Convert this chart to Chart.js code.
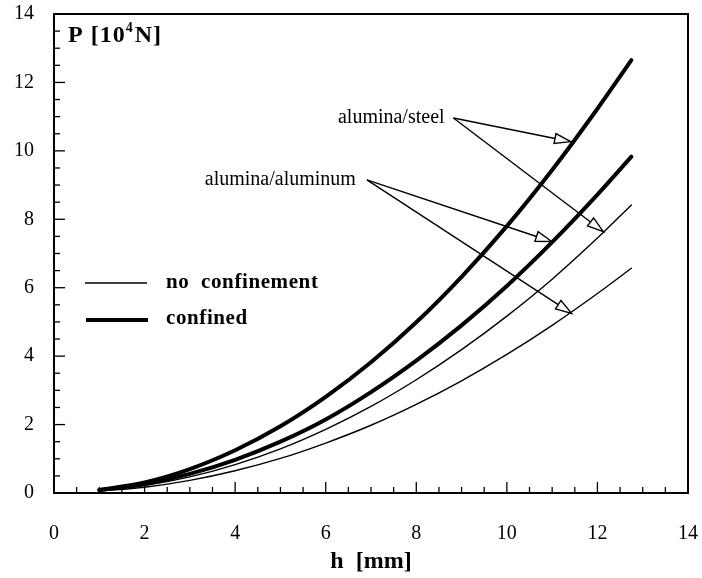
<!DOCTYPE html>
<html>
<head>
<meta charset="utf-8">
<script src="https://cdn.jsdelivr.net/npm/chart.js@4.4.1/dist/chart.umd.min.js"></script>
<style>
  html, body { margin: 0; padding: 0; background: #fff; }
  #wrap { width: 702px; height: 578px; }
</style>
</head>
<body>
<div id="wrap"><canvas id="chart" width="702" height="578"></canvas></div>
<script>
// h [mm] sample points
const H_VALUES = [1, 2, 3, 4, 5, 6, 7, 8, 9, 10, 11, 12, 12.75];

// P [10^4 N]
const STEEL_CONFINED    = [0.09, 0.31, 0.70, 1.25, 1.95, 2.81, 3.82, 4.99, 6.32, 7.80, 9.44, 11.23, 12.65];
const ALUMINUM_CONFINED = [0.08, 0.26, 0.56, 0.97, 1.50, 2.15, 2.95, 3.87, 4.90, 6.05, 7.33, 8.72, 9.83];
const STEEL_FREE        = [0.07, 0.22, 0.47, 0.83, 1.29, 1.86, 2.53, 3.31, 4.19, 5.17, 6.25, 7.45, 8.42];
const ALUMINUM_FREE     = [0.06, 0.17, 0.37, 0.65, 1.01, 1.46, 1.98, 2.59, 3.28, 4.05, 4.90, 5.83, 6.57];

// labels with arrows (data coordinates)
const NOTES = [
  { text: 'alumina/steel', at: [6.27, 10.96], from: [8.82, 10.96], tips: [[11.41, 10.27], [12.13, 7.64]] },
  { text: 'alumina/aluminum', at: [3.33, 9.15], from: [6.91, 9.15], tips: [[10.99, 7.35], [11.43, 5.25]] }
];

const SERIF = '"Liberation Serif", "Times New Roman", serif';

function pts(ys) {
  return H_VALUES.map((h, i) => ({ x: h, y: ys[i] }));
}

function line(ys, w) {
  return {
    data: pts(ys),
    borderColor: '#000',
    borderWidth: w,
    pointRadius: 0,
    fill: false,
    cubicInterpolationMode: 'monotone',
    borderCapStyle: 'round'
  };
}

function arrow(ctx, x0, y0, x1, y1) {
  const len = 16, half = 5;
  const a = Math.atan2(y1 - y0, x1 - x0);
  const bx = x1 - len * Math.cos(a), by = y1 - len * Math.sin(a);
  ctx.beginPath();
  ctx.moveTo(x0, y0);
  ctx.lineTo(bx, by);
  ctx.stroke();
  ctx.beginPath();
  ctx.moveTo(x1, y1);
  ctx.lineTo(bx + half * Math.sin(a), by - half * Math.cos(a));
  ctx.lineTo(bx - half * Math.sin(a), by + half * Math.cos(a));
  ctx.closePath();
  ctx.fillStyle = '#fff';
  ctx.fill();
  ctx.stroke();
}

// frame, inward ticks, legend, labels
const decor = {
  id: 'decor',
  afterDatasetsDraw(chart) {
    const ctx = chart.ctx;
    const a = chart.chartArea;
    const xs = chart.scales.x, ys = chart.scales.y;
    ctx.save();
    ctx.strokeStyle = '#000';
    ctx.lineWidth = 2;
    ctx.strokeRect(a.left, a.top, a.right - a.left, a.bottom - a.top);

    ctx.lineWidth = 1.3;
    for (let v = 0; v <= 14; v += 0.5) {
      const len = v % 2 === 0 ? 11 : 6;
      const py = ys.getPixelForValue(v);
      ctx.beginPath(); ctx.moveTo(a.left, py); ctx.lineTo(a.left + len, py); ctx.stroke();
      const px = xs.getPixelForValue(v);
      ctx.beginPath(); ctx.moveTo(px, a.bottom); ctx.lineTo(px, a.bottom - len); ctx.stroke();
    }

    // axis title P [10^4 N]
    ctx.fillStyle = '#000';
    ctx.textBaseline = 'alphabetic';
    ctx.textAlign = 'left';
    ctx.letterSpacing = '1px';
    ctx.font = 'bold 24px ' + SERIF;
    let tx = 68;
    ctx.fillText('P [10', tx, 42);
    tx += ctx.measureText('P [10').width;
    ctx.font = 'bold 14px ' + SERIF;
    ctx.fillText('4', tx, 32);
    tx += ctx.measureText('4').width + 1;
    ctx.font = 'bold 24px ' + SERIF;
    ctx.fillText('N]', tx, 42);

    // legend
    ctx.lineWidth = 1.3;
    ctx.beginPath(); ctx.moveTo(85, 283); ctx.lineTo(147, 283); ctx.stroke();
    ctx.lineWidth = 4;
    ctx.beginPath(); ctx.moveTo(86, 320); ctx.lineTo(148, 320); ctx.stroke();
    ctx.letterSpacing = '0.6px';
    ctx.font = 'bold 21px ' + SERIF;
    ctx.textBaseline = 'middle';
    ctx.fillText('no  confinement', 166, 283);
    ctx.fillText('confined', 166, 319);

    // notes with arrows
    ctx.letterSpacing = '0px';
    ctx.font = '20px ' + SERIF;
    ctx.lineWidth = 1.4;
    NOTES.forEach(n => {
      ctx.fillStyle = '#000';
      ctx.fillText(n.text, xs.getPixelForValue(n.at[0]), ys.getPixelForValue(n.at[1]));
      const fx = xs.getPixelForValue(n.from[0]), fy = ys.getPixelForValue(n.from[1]);
      n.tips.forEach(t => {
        arrow(ctx, fx, fy, xs.getPixelForValue(t[0]), ys.getPixelForValue(t[1]));
      });
    });
    ctx.restore();
  }
};

new Chart(document.getElementById('chart'), {
  type: 'line',
  data: {
    datasets: [
      line(STEEL_CONFINED, 4),
      line(ALUMINUM_CONFINED, 4),
      line(STEEL_FREE, 1.4),
      line(ALUMINUM_FREE, 1.4)
    ]
  },
  options: {
    responsive: false,
    animation: false,
    devicePixelRatio: 1,
    layout: { padding: { top: 14, right: 14, left: 0, bottom: 0 } },
    plugins: { legend: { display: false }, tooltip: { enabled: false } },
    scales: {
      x: {
        type: 'linear',
        min: 0, max: 14,
        grid: { display: false },
        border: { display: false },
        ticks: { stepSize: 2, color: '#000', padding: 21, maxRotation: 0, font: { family: SERIF, size: 20 } },
        title: { display: true, text: 'h  [mm]', color: '#000', padding: { top: 0, bottom: 2 }, font: { family: SERIF, size: 24, weight: 'bold' } },
        afterFit: s => { s.height = 85; s.paddingLeft = 0; s.paddingRight = 0; }
      },
      y: {
        min: 0, max: 14,
        grid: { display: false },
        border: { display: false },
        ticks: { stepSize: 2, color: '#000', padding: 12, font: { family: SERIF, size: 20 } },
        afterFit: s => { s.width = 54; s.paddingTop = 0; s.paddingBottom = 0; }
      }
    }
  },
  plugins: [decor]
});
</script>
</body>
</html>
